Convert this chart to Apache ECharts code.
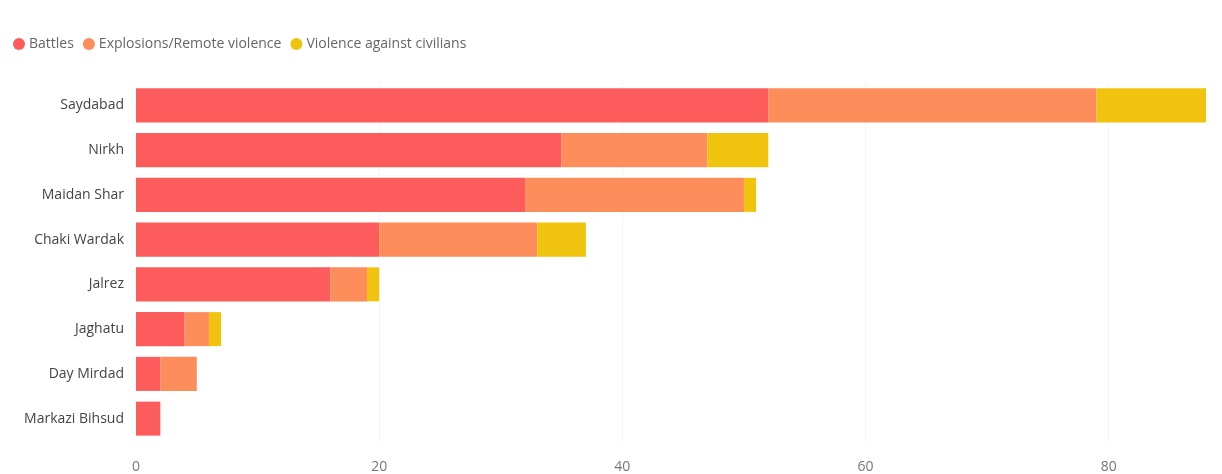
<!DOCTYPE html>
<html>
<head>
<meta charset="utf-8">
<script src="https://cdn.jsdelivr.net/npm/echarts@6/dist/echarts.min.js"></script>
<style>
html,body{margin:0;padding:0;background:#fff;}
#chart{width:1222px;height:474px;}
</style>
</head>
<body>
<div id="chart"></div>
<script>
const categories = ["Saydabad","Nirkh","Maidan Shar","Chaki Wardak","Jalrez","Jaghatu","Day Mirdad","Markazi Bihsud"];
const battles = [52, 35, 32, 20, 16, 4, 2, 2];
const explosions = [27, 12, 18, 13, 3, 2, 3, 0];
const violence = [9, 5, 1, 4, 1, 1, 0, 0];
const xTicks = [0, 20, 40, 60, 80];

const chart = echarts.init(document.getElementById('chart'));
const font = '"Open Sans", "Noto Sans", sans-serif';
const mk = (name, data, color) => ({
  name, type: 'bar', stack: 'total', data,
  barCategoryGap: '24%',
  itemStyle: { color },
  emphasis: { disabled: true }
});
chart.setOption({
  animation: false,
  textStyle: { fontFamily: font },
  legend: {
    left: 8, top: 32,
    icon: 'circle', itemWidth: 12, itemHeight: 12, itemGap: 9,
    textStyle: { color: '#666', fontSize: 14, fontFamily: font, padding: [0,0,0,-1] },
    data: ['Battles', 'Explosions/Remote violence', 'Violence against civilians']
  },
  grid: { left: 136, right: 16, top: 83, bottom: 33, containLabel: false },
  xAxis: {
    type: 'value', min: 0, max: 88, interval: 20,
    axisLine: { show: false }, axisTick: { show: false },
    splitLine: { show: true, showMaxLine: false, showMinLine: false, lineStyle: { color: '#f4f4f4' } },
    axisLabel: {
      color: '#777', fontSize: 14, fontFamily: font, margin: 19,
      showMaxLabel: false,
      formatter: v => xTicks.includes(v) ? String(v) : ''
    }
  },
  yAxis: {
    type: 'category', data: categories, inverse: true,
    axisLine: { show: false }, axisTick: { show: false },
    axisLabel: { color: '#444', fontSize: 14, fontFamily: font, margin: 12 }
  },
  series: [
    mk('Battles', battles, '#FD5C5C'),
    mk('Explosions/Remote violence', explosions, '#FE8D5C'),
    mk('Violence against civilians', violence, '#F0C40E')
  ]
});
</script>
</body>
</html>
